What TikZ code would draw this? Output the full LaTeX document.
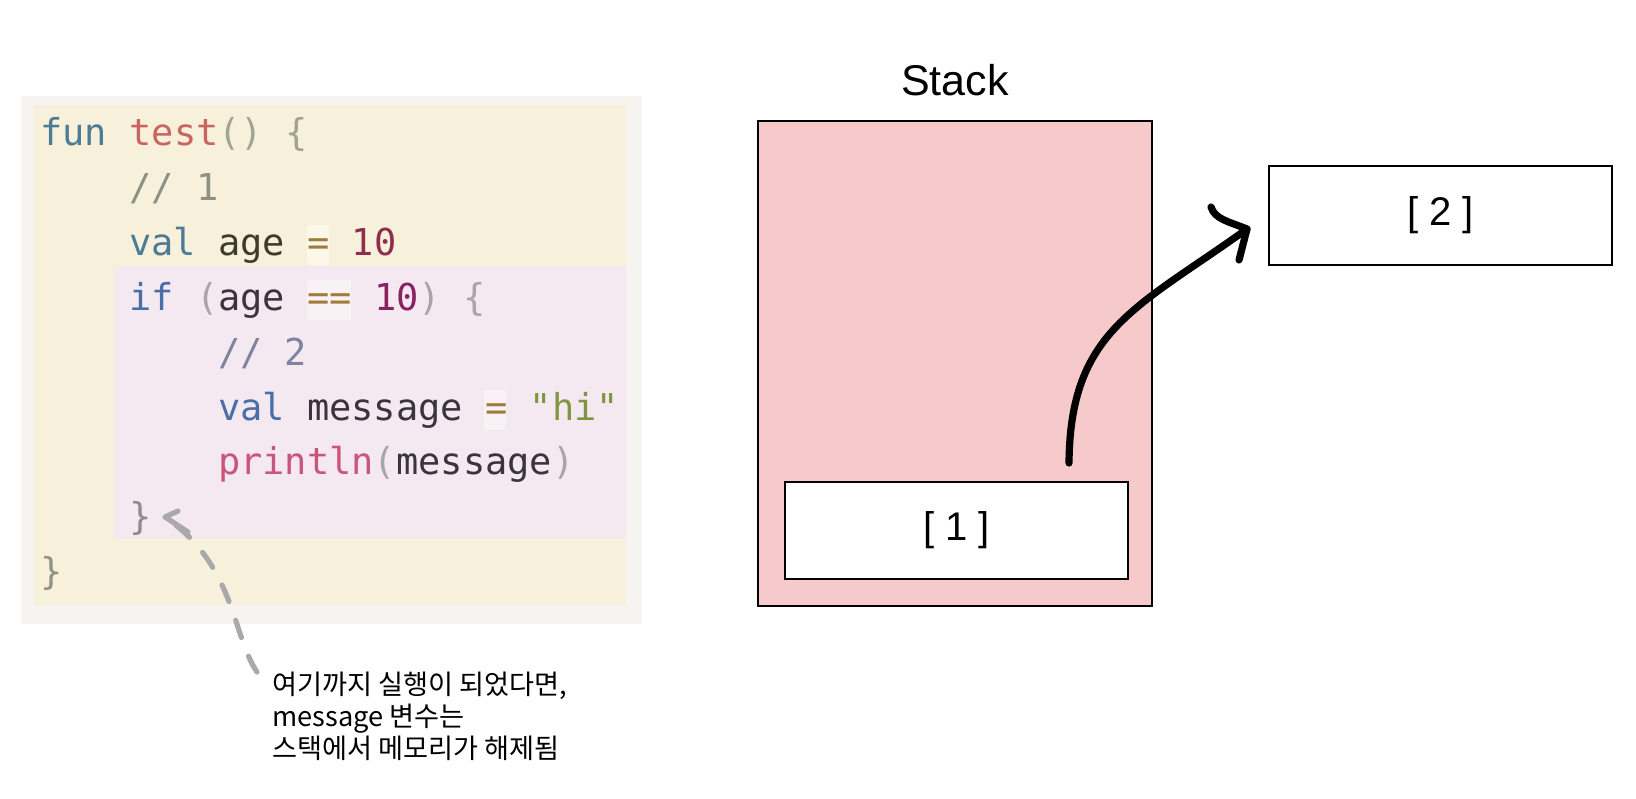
\documentclass[tikz,border=0pt]{standalone}
\usepackage{fontspec}
\setmainfont{Liberation Sans}
\newfontfamily\codefont{DejaVu Sans Mono}
\newfontfamily\krfont{Noto Sans CJK KR}
\definecolor{bggray}{HTML}{F5F4F0}
\definecolor{bgyellow}{HTML}{F7F1DC}
\definecolor{bgpink}{HTML}{F4E9F1}
\definecolor{hlyellow}{HTML}{FBF8EA}
\definecolor{hlpink}{HTML}{F9F2F5}
\definecolor{kwteal}{HTML}{4D7B96}
\definecolor{kwblue}{HTML}{4A6EA8}
\definecolor{fnred}{HTML}{C9655F}
\definecolor{puncolive}{HTML}{A3A394}
\definecolor{puncpink}{HTML}{A9A3AB}
\definecolor{cmtolive}{HTML}{8D9185}
\definecolor{cmtblue}{HTML}{7D84A0}
\definecolor{idolive}{HTML}{3E3B2B}
\definecolor{idpink}{HTML}{3B3440}
\definecolor{opbrown}{HTML}{A07C3C}
\definecolor{numolive}{HTML}{8F2D4E}
\definecolor{numpink}{HTML}{8A2160}
\definecolor{strgreen}{HTML}{7D963F}
\definecolor{fnpink}{HTML}{C9557A}
\definecolor{stackfill}{HTML}{F6CACA}
\definecolor{dashgray}{HTML}{A9A9A9}
\tikzset{
  codeline/.style={anchor=base west, inner sep=0pt, font=\codefont\fontsize{18.5pt}{22pt}\selectfont},
  krline/.style={anchor=base west, inner sep=0pt, font=\krfont\fontsize{13.6pt}{16pt}\selectfont},
  membox/.style={draw=black, line width=1pt, fill=white, inner sep=0pt, font=\fontsize{20pt}{24pt}\selectfont},
  stackbox/.style={draw=black, line width=1pt, fill=stackfill, inner sep=0pt},
  refarrow/.style={line width=3.6pt, line cap=round, line join=round, black},
  notearrow/.style={line width=2.6pt, line cap=round, line join=round, dashgray}
}
\begin{document}
\begin{tikzpicture}[x=0.5pt,y=-0.5pt]
\useasboundingbox (0,0) rectangle (1636,798);
% code panel backgrounds
\fill[bggray] (21,96) rectangle (642,624);
\fill[bgyellow] (34,105) rectangle (626,605);
\fill[bgpink] (114,266) rectangle (626,539);
% operator highlights
\fill[hlyellow] (306.6,225) rectangle (328.8,265);
\fill[hlpink] (306.6,280) rectangle (351,320);
\fill[hlpink] (484,390) rectangle (506.2,430);
% code lines
\node[codeline] (c1) at (40,145.5) {\textcolor{kwteal}{fun} \textcolor{fnred}{test}\textcolor{puncolive}{() \{}};
\node[codeline] (c2) at (128.8,200.4) {\textcolor{cmtolive}{// 1}};
\node[codeline] (c3) at (128.8,255.3) {\textcolor{kwteal}{val} \textcolor{idolive}{age} \textcolor{opbrown}{=} \textcolor{numolive}{10}};
\node[codeline] (c4) at (128.8,310.2) {\textcolor{kwblue}{if} \textcolor{puncpink}{(}\textcolor{idpink}{age} \textcolor{opbrown}{==} \textcolor{numpink}{10}\textcolor{puncpink}{) \{}};
\node[codeline] (c5) at (217.6,365.1) {\textcolor{cmtblue}{// 2}};
\node[codeline] (c6) at (217.6,420) {\textcolor{kwblue}{val} \textcolor{idpink}{message} \textcolor{opbrown}{=} \textcolor{strgreen}{"hi"}};
\node[codeline] (c7) at (217.6,474.9) {\textcolor{fnpink}{println}\textcolor{puncpink}{(}\textcolor{idpink}{message}\textcolor{puncpink}{)}};
\node[codeline] (c8) at (128.8,529.8) {\textcolor{puncpink!85!black}{\}}};
\node[codeline] (c9) at (40,584.7) {\textcolor{puncolive!90!black}{\}}};
% note text
\node[krline] (k1) at (272,694) {여기까지 실행이 되었다면,};
\node[krline] (k2) at (272,726) {message 변수는};
\node[krline] (k3) at (272,758) {스택에서 메모리가 해제됨};
% dashed note arrow
\coordinate (nstart) at (257,672);
\coordinate (ntip) at (165,517);
\draw[notearrow, dash pattern=on 9pt off 10pt] (nstart) .. controls (232,635) and (235,565) .. (ntip);
\draw[notearrow] ([shift={(13,-6)}]ntip) -- (ntip) -- ([shift={(23,15)}]ntip);
% stack
\node[font=\fontsize{21.5pt}{24pt}\selectfont, anchor=base, inner sep=0pt] (stlabel) at (955,95) {Stack};
\node[stackbox, minimum width=197pt, minimum height=242.5pt] (stack) at (955,363.5) {};
\node[membox, minimum width=171.5pt, minimum height=48.5pt] (b1) at (956.5,530.5) {[ 1 ]};
\node[membox, minimum width=171.5pt, minimum height=49.5pt] (b2) at (1440.5,215.5) {[ 2 ]};
% reference arrow
\coordinate (rstart) at (1069,463);
\coordinate (rtip) at (1247,229);
\draw[refarrow] (rstart) .. controls (1070,330) and (1137,308) .. (rtip);
\draw[refarrow] ([shift={(-36,-22)}]rtip) .. controls ([shift={(-32,-10)}]rtip) and ([shift={(-20,-8)}]rtip) .. (rtip) -- ([shift={(-8,31)}]rtip);
\end{tikzpicture}
\end{document}
